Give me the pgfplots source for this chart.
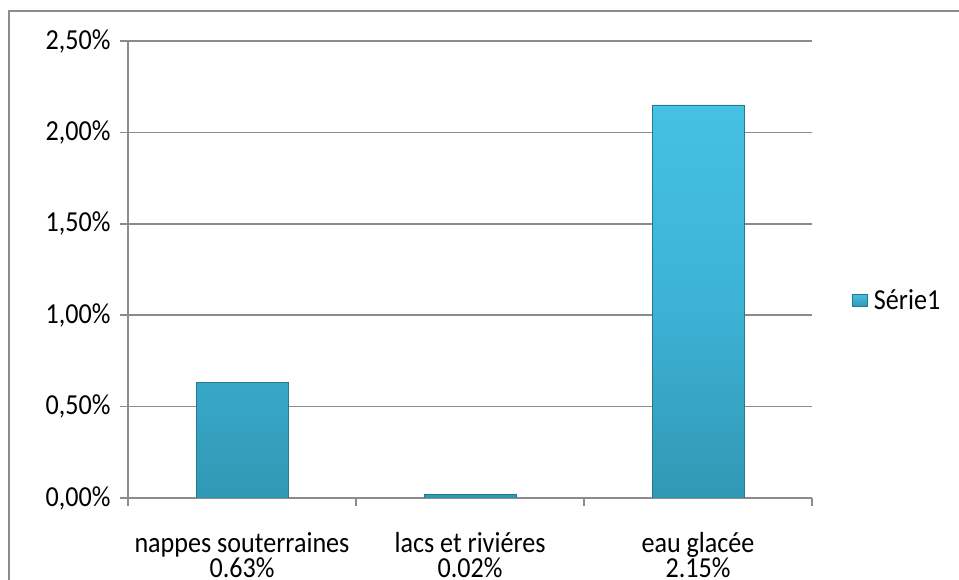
\documentclass[border=0pt]{standalone}
\usepackage{fontspec}
\setmainfont{Carlito}[FakeStretch=0.9]
\usepackage{pgfplots}
\pgfplotsset{compat=1.18}
\definecolor{gridgray}{HTML}{8C8C8C}
\definecolor{bartop}{HTML}{45C1E3}
\definecolor{barmid}{HTML}{3CB3D6}
\definecolor{barbot}{HTML}{3198B4}
\definecolor{baredge}{HTML}{26788E}
\newcommand{\lbl}[2]{\rule{0pt}{22pt}#1\\#2}
\begin{document}
\begin{tikzpicture}
\path[use as bounding box] (0pt,0pt) rectangle (959pt,580pt);
\draw[gridgray, line width=2pt] (9pt,-5pt) -- (9pt,569pt) -- (965pt,569pt);
\begin{axis}[
  at={(128pt,82pt)}, anchor=south west,
  width=684pt, height=457pt, scale only axis,
  xmin=-0.5, xmax=2.5, ymin=0, ymax=2.5,
  axis x line*=bottom, axis y line*=left,
  axis line style={gridgray, line width=1.5pt, -},
  ymajorgrids, grid style={gridgray, line width=1.5pt},
  tick style={gridgray, line width=1.5pt},
  major tick length=8pt, tick align=outside,
  ytick={0,0.5,1,1.5,2,2.5},
  yticklabels={{0,00\%},{0,50\%},{1,00\%},{1,50\%},{2,00\%},{2,50\%}},
  yticklabel style={font=\fontsize{29}{29}\selectfont, anchor=east, xshift=-6pt},
  xtick={-0.5,0.5,1.5,2.5}, xticklabels={},
  extra x ticks={0,1,2},
  extra x tick labels={{\lbl{nappes souterraines}{0.63\%}},{\lbl{lacs et riviéres}{0.02\%}},{\lbl{eau glacée}{2.15\%}}},
  extra x tick style={major tick length=0pt, xticklabel style={align=center, anchor=north, font=\fontsize{29}{25}\selectfont, inner sep=0pt, yshift=-32pt}},
  legend style={at={(axis description cs:1.054,0.433)}, anchor=west, draw=none, fill=none, font=\fontsize{29}{29}\selectfont},
  legend image code/.code={\shade[top color=bartop, bottom color=barbot, draw=baredge] (0pt,-6pt) rectangle (15pt,6pt);},
]
\addplot[ybar, bar width=92pt, top color=bartop, bottom color=barbot, middle color=barmid, draw=baredge, line width=0.8pt] coordinates {(0,0.63) (1,0.02) (2,2.15)};
\addlegendentry{\hspace{4pt}Série1}
\end{axis}
\end{tikzpicture}
\end{document}
